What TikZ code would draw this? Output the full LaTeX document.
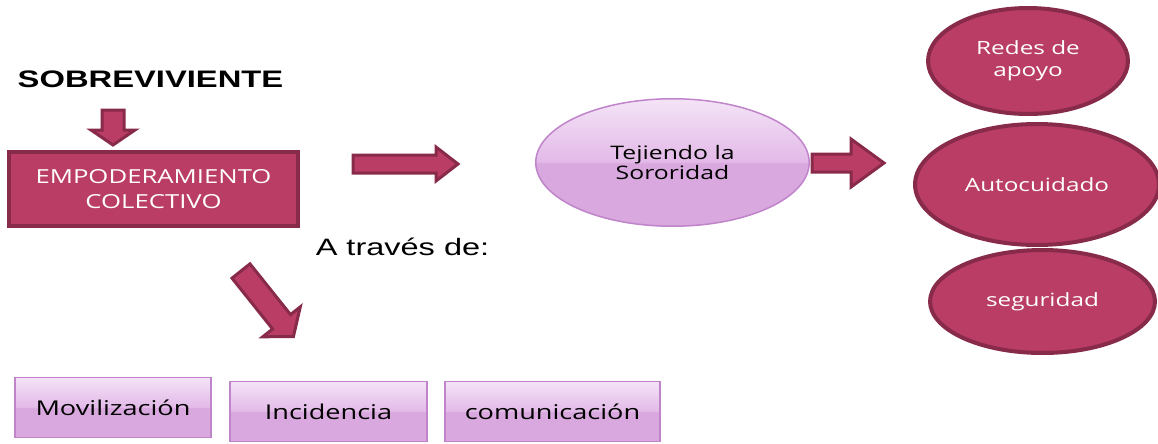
\documentclass[tikz,border=0pt]{standalone}
\usepackage{fontspec}
\usepackage{graphicx}
\setmainfont{Open Sans}
\newfontfamily\arialf{Liberation Sans}
\usetikzlibrary{shapes.geometric}
\definecolor{magfill}{RGB}{185,61,100}
\definecolor{magdraw}{RGB}{136,42,74}
\definecolor{lavtop}{RGB}{244,228,247}
\definecolor{lavmid}{RGB}{227,186,232}
\definecolor{lavbot}{RGB}{216,168,222}
\definecolor{lavdraw}{RGB}{191,132,201}
\pgfdeclareverticalshading{gloss}{100bp}{color(0bp)=(lavbot); color(25bp)=(lavbot); color(49.5bp)=(lavbot); color(50.5bp)=(lavmid); color(75bp)=(lavtop); color(100bp)=(lavtop)}
\newcommand\hx[2][1.33]{\scalebox{#1}[1]{#2}}
% #1 start, #2 angle, #3 length, #4 shaft width, #5 head width, #6 head length
\newcommand\barrow[6]{%
  \draw[arrowstyle, shift={#1}, rotate=#2]
    (0,-#4/2) -- (#3-#6,-#4/2) -- (#3-#6,-#5/2) -- (#3,0) --
    (#3-#6,#5/2) -- (#3-#6,#4/2) -- (0,#4/2) -- cycle;}
\tikzset{
  magbox/.style={rectangle, draw=magdraw, fill=magfill, line width=0.08cm, text=white, inner sep=0pt, align=center},
  magell/.style={ellipse, draw=magdraw, fill=magfill, line width=0.08cm, text=white, inner sep=0pt, align=center},
  lavell/.style={ellipse, draw=lavdraw, shading=gloss, line width=0.03cm, inner sep=0pt, align=center},
  lavbox/.style={rectangle, draw=lavdraw, shading=gloss, line width=0.03cm, inner sep=0pt, font=\fontsize{11.6}{14}\selectfont},
  arrowstyle/.style={draw=magdraw, fill=magfill, line width=0.06cm, line join=miter},
  arialtext/.style={font=\arialf\fontsize{13.5}{16}\selectfont, anchor=base, inner sep=0pt},
}
\begin{document}
\begin{tikzpicture}[x=0.02cm, y=-0.02cm]
\useasboundingbox (0,0) rectangle (1158,443);

% titles
\node[arialtext, font=\arialf\bfseries\fontsize{13.6}{16}\selectfont] (sobre) at (150.5,87) {\hx[1.37]{SOBREVIVIENTE}};
\node[arialtext] (atraves) at (402.5,255) {\hx[1.37]{A través de:}};

% main box
\node[magbox, minimum width=5.78cm, minimum height=1.48cm, font=\fontsize{11}{14.6}\selectfont] (empo) at (153.5,189) {\hx{EMPODERAMIENTO}\\\hx{COLECTIVO}};

% central ellipse
\node[lavell, minimum width=5.47cm, minimum height=2.55cm, font=\fontsize{10.6}{11.6}\selectfont] (teji) at (672.5,162.5) {\hx{Tejiendo la}\\\hx{Sororidad}};

% right ellipses
\node[magell, minimum width=4.0cm, minimum height=2.12cm, font=\fontsize{10.4}{12.5}\selectfont] (redes) at (1028,61) {\hx{Redes de}\\\hx{apoyo}};
\node[magell, minimum width=4.88cm, minimum height=2.42cm, font=\fontsize{10.4}{12.5}\selectfont] (auto) at (1037,184.5) {\hx{Autocuidado}};
\node[magell, minimum width=4.5cm, minimum height=2.06cm, font=\fontsize{10.4}{12.5}\selectfont] (segu) at (1042.5,301.5) {\hx{seguridad}};

% bottom boxes
\node[lavbox, minimum width=3.93cm, minimum height=1.2cm] (movi) at (113,407.5) {\hx{Movilización}};
\node[lavbox, minimum width=3.95cm, minimum height=1.2cm] (inci) at (328.5,411.5) {\hx{Incidencia}};
\node[lavbox, minimum width=4.31cm, minimum height=1.2cm] (comu) at (552.5,411.5) {\hx{comunicación}};

% block arrows
\barrow{(113,110)}{-90}{35}{22}{44}{15}
\barrow{(353,164)}{0}{105}{18}{34}{22}
\barrow{(812,163)}{0}{72}{18}{48}{33}
\barrow{(241,271)}{-51.4}{84}{23}{48}{19}
\end{tikzpicture}
\end{document}
